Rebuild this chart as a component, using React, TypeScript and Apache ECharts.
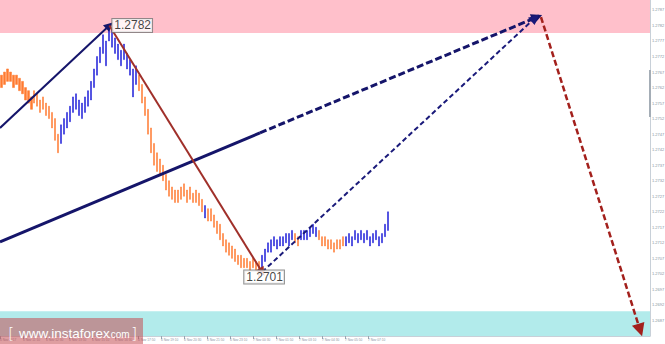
import React, { useEffect, useRef } from "react";
import * as echarts from "echarts";

// ---------- data ----------
const BASE = 1.2682; // price at the bottom of the plot
const TOP = 1.27902; // price at the top of the plot
const PIP = 0.0001;
const SLOTS = 217; // time slots on the x axis (history + empty future)

const lows = [
  1.2762, 1.2763, 1.2764, 1.2764, 1.2762, 1.2763, 1.2761, 1.276, 1.2758, 1.2757,
  1.2755, 1.2757, 1.2756, 1.2754, 1.2755, 1.2753, 1.2752, 1.2749, 1.2745, 1.2741,
  1.2744, 1.2747, 1.2749, 1.2751, 1.2754, 1.2755, 1.2753, 1.2752, 1.2754, 1.2756,
  1.2758, 1.2762, 1.2766, 1.277, 1.2773, 1.2769, 1.2777, 1.2775, 1.2773, 1.2771,
  1.2769, 1.2771, 1.2768, 1.2766, 1.2759, 1.2763, 1.2761, 1.2757, 1.2753, 1.2747,
  1.2741, 1.2737, 1.2735, 1.2734, 1.2732, 1.2729, 1.2727, 1.2726, 1.2725, 1.2725,
  1.2726, 1.2727, 1.2725, 1.2726, 1.2725, 1.2725, 1.2724, 1.2722, 1.272, 1.2719,
  1.2719, 1.2717, 1.2715, 1.2713, 1.2711, 1.2709, 1.2708, 1.2707, 1.2706, 1.2705,
  1.2704, 1.2704, 1.2704, 1.2703, 1.2704, 1.2703, 1.2701, 1.2704, 1.2706, 1.2709,
  1.2709, 1.2711, 1.271, 1.2711, 1.2711, 1.2712, 1.2711, 1.2713, 1.2712, 1.2711,
  1.2713, 1.2713, 1.2713, 1.2714, 1.2715, 1.2714, 1.2713, 1.2711, 1.2711, 1.271,
  1.271, 1.2709, 1.271, 1.271, 1.2711, 1.2711, 1.2712, 1.2711, 1.2713, 1.2712,
  1.2713, 1.2712, 1.2713, 1.2711, 1.2712, 1.2713, 1.2711, 1.2712, 1.2714, 1.2716,
];
const highs = [
  1.2766, 1.2767, 1.2768, 1.2767, 1.2766, 1.2766, 1.2765, 1.2764, 1.2762, 1.2761,
  1.2759, 1.2761, 1.276, 1.2758, 1.2759, 1.2757, 1.2756, 1.2754, 1.2752, 1.2747,
  1.275, 1.2752, 1.2754, 1.2756, 1.2759, 1.276, 1.2758, 1.2757, 1.2759, 1.2761,
  1.2764, 1.2768, 1.2772, 1.2775, 1.2779, 1.2777, 1.2782, 1.2781, 1.2778, 1.2776,
  1.2774, 1.2776, 1.2773, 1.2771, 1.2768, 1.2769, 1.2766, 1.2763, 1.2759, 1.2755,
  1.2749, 1.2744, 1.2741, 1.2739, 1.2737, 1.2734, 1.2732, 1.273, 1.2729, 1.2729,
  1.273, 1.2731, 1.2729, 1.273, 1.2728, 1.2729, 1.2728, 1.2726, 1.2724, 1.2723,
  1.2723, 1.2721, 1.2719, 1.2718, 1.2715, 1.2713, 1.2712, 1.2711, 1.271, 1.2708,
  1.2708, 1.2707, 1.2707, 1.2706, 1.2707, 1.2706, 1.2706, 1.2708, 1.271, 1.2712,
  1.2713, 1.2714, 1.2713, 1.2714, 1.2714, 1.2715, 1.2715, 1.2716, 1.2715, 1.2714,
  1.2716, 1.2716, 1.2716, 1.2717, 1.2718, 1.2717, 1.2716, 1.2714, 1.2714, 1.2713,
  1.2713, 1.2712, 1.2713, 1.2713, 1.2714, 1.2714, 1.2715, 1.2714, 1.2716, 1.2715,
  1.2716, 1.2715, 1.2716, 1.2714, 1.2715, 1.2716, 1.2714, 1.2715, 1.2718, 1.2722,
];
// colour runs of the bars: [number of bars, "o" orange | "b" blue]
const trendRuns: [number, string][] = [
  [20, "o"], [26, "b"], [22, "o"], [1, "b"], [18, "o"],
  [11, "b"], [2, "o"], [6, "b"], [9, "o"], [15, "b"],
];

const timeLabels = [
  "6 Nov 2017", "6 Nov 11:10", "6 Nov 12:30", "6 Nov 13:50", "6 Nov 15:10",
  "6 Nov 16:30", "6 Nov 17:50", "6 Nov 19:10", "6 Nov 20:30", "6 Nov 21:50",
  "6 Nov 23:10", "7 Nov 00:30", "7 Nov 01:50", "7 Nov 03:10", "7 Nov 04:30",
  "7 Nov 05:50", "7 Nov 07:10",
];
const LABEL_STEP = 7.68; // slots between time labels

const peakPoint = [36.5, 1.2782];
const troughPoint = [86.5, 1.2701];
const lastPrice = 1.2722;
const titleText = "USDCAD,M5  1.2720 1.2722 1.2719 1.2722";

const resistanceZone = [1.27796, TOP];
const supportZone = [BASE, 1.269];

// wave arrows: [time slot, price]
const waveUp = [[0, 1.2749], [36.5, 1.2782]];
const trendSolid = [[0, 1.27123], [86.8, 1.27474]];
const trendDashed = [[86.8, 1.27474], [179.3, 1.27847]];
const waveDown = [[36.5, 1.2782], [87.5, 1.27026]];
const forecastUp = [[87.5, 1.27026], [178.6, 1.27844]];
const forecastDown = [[180.6, 1.27847], [213.7, 1.26839]];

const BLUE = "#1f1fd8";
const ORANGE = "#ff7a30";
const NAVY = "#15156a";

export default function App() {
  const ref = useRef<HTMLDivElement>(null);
  useEffect(() => {
    if (!ref.current) return;
    const chart = echarts.init(ref.current, null, { renderer: "svg" });
    const toY = (p: number) => (p - BASE) / PIP;
    const pt = (a: number[]) => [a[0], toY(a[1])];

    const barColors: string[] = [];
    trendRuns.forEach(([n, c]) => {
      for (let k = 0; k < n; k++) barColors.push(c === "o" ? ORANGE : BLUE);
    });
    const candles = lows.map((lo, i) => {
      const c = barColors[i];
      return {
        value: [toY(lo), toY(highs[i]), toY(lo), toY(highs[i])],
        itemStyle: { color: c, borderColor: c, borderWidth: 0.5 },
      };
    });
    const tickPos = timeLabels.map((_, k) => k * LABEL_STEP);

    const arrow = (
      coords: number[][],
      color: string,
      width: number,
      dashed: number[] | null,
      head: number
    ) => ({
      type: "lines",
      coordinateSystem: "cartesian2d",
      xAxisIndex: 1,
      yAxisIndex: 0,
      polyline: false,
      silent: true,
      z: 5,
      symbol: head ? ["none", "triangle"] : ["none", "none"],
      symbolSize: head ? [0, head] : 0,
      lineStyle: { color, width, type: dashed ? dashed : "solid", opacity: 1 },
      data: [{ coords: coords.map(pt) }],
    });

    const labelStyle = {
      show: true,
      color: "#111",
      fontSize: 12,
      fontFamily: "Liberation Sans",
      backgroundColor: "#fff",
      borderColor: "#777",
      borderWidth: 1,
      padding: [1, 1, 0, 2],
      formatter: (p: any) => (BASE + p.value[1] * PIP).toFixed(4),
    };

    const wm = (el: any) => ({ ...el, z: 100, zlevel: 1 });

    chart.setOption({
      animation: false,
      backgroundColor: "#fff",
      grid: { left: 0, right: 15, top: 0, bottom: 8, outerBoundsMode: "none", containLabel: false },
      xAxis: [
        {
          type: "category",
          data: Array.from({ length: SLOTS }, (_, i) => String(i)),
          show: false,
          boundaryGap: true,
        },
        {
          type: "value",
          min: 0,
          max: SLOTS,
          position: "bottom",
          axisLine: { show: true, onZero: false, lineStyle: { color: "#c8d0d8", width: 1 } },
          axisTick: {
            show: true,
            customValues: tickPos,
            length: 3,
            lineStyle: { color: "#9aa5b0" },
          },
          axisLabel: {
            customValues: tickPos,
            align: "left",
            fontSize: 3.2,
            margin: 2,
            color: "#8893a0",
            fontFamily: "Liberation Sans",
            formatter: (v: number) => timeLabels[Math.round(v / LABEL_STEP)] ?? "",
          },
          splitLine: { show: false },
        },
      ],
      yAxis: {
        type: "value",
        position: "right",
        min: 0,
        max: toY(TOP),
        interval: 5,
        axisLine: { show: true, onZero: false, lineStyle: { color: "#c8d0d8" } },
        axisTick: { show: false },
        splitLine: { show: false },
        axisLabel: {
          fontSize: 4,
          margin: 2,
          color: "#8893a0",
          fontFamily: "Liberation Sans",
          showMinLabel: false,
          showMaxLabel: false,
          formatter: (v: number) => (BASE + v * PIP).toFixed(4),
        },
      },
      series: [
        {
          type: "candlestick",
          xAxisIndex: 0,
          yAxisIndex: 0,
          barWidth: 1.6,
          z: 3,
          data: candles,
          markArea: {
            silent: true,
            z: 1,
            data: [
              [
                { yAxis: toY(resistanceZone[0]), itemStyle: { color: "#ffc0cb" } },
                { yAxis: toY(resistanceZone[1]) },
              ],
              [
                { yAxis: toY(supportZone[0]), itemStyle: { color: "#b2ebeb" } },
                { yAxis: toY(supportZone[1]) },
              ],
            ],
          },
          markLine: {
            silent: true,
            symbol: "none",
            lineStyle: { opacity: 0 },
            label: {
              position: "end",
              distance: 1,
              formatter: lastPrice.toFixed(4),
              backgroundColor: "#7f8e9e",
              color: "#fff",
              fontSize: 4,
              fontFamily: "Liberation Sans",
              padding: [1, 1],
            },
            data: [{ yAxis: toY(lastPrice) }],
          },
        },
        arrow(waveUp, NAVY, 2, null, 9),
        arrow(trendSolid, NAVY, 3, null, 0),
        arrow(trendDashed, NAVY, 3, [7, 3], 11),
        arrow(forecastUp, "#1a1a7a", 2, [5, 3], 10),
        arrow(waveDown, "#a0302a", 2, null, 9),
        arrow(forecastDown, "#a3201c", 2.5, [6, 3], 13),
        {
          type: "scatter",
          xAxisIndex: 1,
          yAxisIndex: 0,
          symbolSize: 0,
          silent: true,
          z: 10,
          data: [
            { value: pt(peakPoint), label: { ...labelStyle, position: "right", distance: 3 } },
            { value: pt(troughPoint), label: { ...labelStyle, position: "inside", offset: [5, 0] } },
          ],
        },
      ],
      graphic: [
        {
          type: "rect",
          shape: { x: 0, y: 1, width: 3, height: 3 },
          style: { fill: "#c8a6b0" },
        },
        {
          type: "text",
          x: 7,
          y: 1,
          style: {
            text: titleText,
            fontSize: 4,
            fontFamily: "Liberation Sans",
            fill: "#9098a4",
          },
        },
        {
          type: "rect",
          shape: { x: 649, y: 70, width: 2, height: 47 },
          style: { fill: "#a4adb6" },
          z: 50,
        },
        wm({
          type: "rect",
          shape: { x: 0, y: 318, width: 143, height: 26 },
          style: { fill: "rgba(196,78,84,0.55)" },
        }),
        wm({
          type: "text",
          x: 8,
          y: 341,
          style: {
            text: "[",
            fontSize: 16,
            fontFamily: "DejaVu Sans",
            fontWeight: 200,
            fill: "#fff",
            textVerticalAlign: "bottom",
          },
        }),
        wm({
          type: "text",
          x: 19,
          y: 340,
          style: {
            text: "www.instaforex",
            fontSize: 13.5,
            fontFamily: "Liberation Sans",
            fill: "#fff",
            textVerticalAlign: "bottom",
          },
        }),
        wm({
          type: "text",
          x: 108,
          y: 339.5,
          style: {
            text: ".com",
            fontSize: 10,
            fontFamily: "Liberation Sans",
            fill: "#fff",
            textVerticalAlign: "bottom",
          },
        }),
        wm({
          type: "text",
          x: 131,
          y: 341,
          style: {
            text: "]",
            fontSize: 16,
            fontFamily: "DejaVu Sans",
            fontWeight: 200,
            fill: "#fff",
            textVerticalAlign: "bottom",
          },
        }),
      ],
    });
    return () => chart.dispose();
  }, []);
  return (
    <div
      ref={ref}
      style={{ position: "fixed", left: 0, top: 0, width: 665, height: 344, background: "#fff" }}
    />
  );
}
